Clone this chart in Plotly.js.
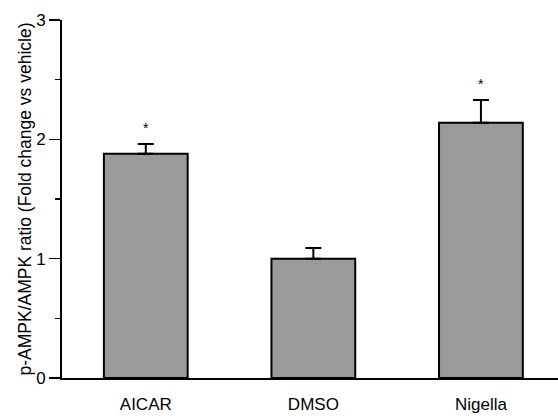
<!DOCTYPE html>
<html>
<head>
<meta charset="utf-8">
<script src="https://cdn.plot.ly/plotly-3.0.1.min.js"></script>
<style>html,body{margin:0;padding:0;background:#fff;}#chart{width:558px;height:418px;}</style>
</head>
<body>
<div id="chart"></div>
<script>
const categories = ["AICAR", "DMSO", "Nigella"];
const values = [1.88, 1.00, 2.14];
const errors = [0.08, 0.09, 0.19];
const significance = ["*", "", "*"];
const yTicks = [0, 1, 2, 3];

const trace = {
  type: "bar",
  x: categories,
  y: values,
  width: 0.5,
  marker: {color: "#9a9a9a", line: {color: "#000", width: 2}},
  error_y: {type: "data", array: errors, symmetric: false, arrayminus: errors.map(() => 0), visible: true, color: "#000", thickness: 2, width: 8},
  hoverinfo: "none"
};

const annotations = categories.map((c, i) => ({
  x: c, y: values[i] + errors[i] + 0.05, xref: "x", yref: "y",
  text: significance[i], showarrow: false, yanchor: "bottom",
  font: {family: "Liberation Sans, Arial, sans-serif", size: 14, color: "#000"}
})).filter(a => a.text);

const layout = {
  width: 558, height: 418,
  margin: {l: 62, r: 0, t: 20, b: 40},
  paper_bgcolor: "#fff", plot_bgcolor: "#fff",
  showlegend: false,
  font: {family: "Liberation Sans, Arial, sans-serif", size: 17, color: "#000"},
  xaxis: {
    type: "category", range: [-0.5, 2.46], showline: true, linecolor: "#000", linewidth: 1.5,
    ticks: "", showgrid: false, zeroline: false, fixedrange: true,
    tickfont: {size: 17}, ticklabelstandoff: 10
  },
  yaxis: {
    range: [0, 3], tickvals: yTicks, ticktext: yTicks.map(String),
    showline: true, linecolor: "#000", linewidth: 2,
    ticks: "outside", ticklen: 11, tickwidth: 1.5, tickcolor: "#000",
    minor: {dtick: 0.5, ticks: "outside", ticklen: 5, tickwidth: 1.5, tickcolor: "#000", showgrid: false},
    showgrid: false, zeroline: false, fixedrange: true,
    tickfont: {size: 17},
    title: {text: "p-AMPK/AMPK ratio (Fold change vs vehicle)", font: {size: 17.5}, standoff: 0}
  },
  annotations: annotations
};

Plotly.newPlot("chart", [trace], layout, {displayModeBar: false, staticPlot: true});
</script>
</body>
</html>
